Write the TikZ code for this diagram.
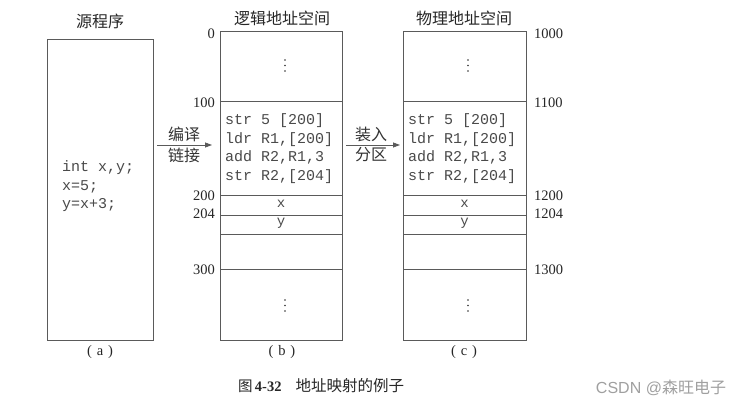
\documentclass[tikz,border=0pt]{standalone}
\usepackage{fontspec}
\setmainfont{Liberation Serif}
\newfontfamily\cjk{Noto Sans CJK SC}
\newfontfamily\monof{Liberation Mono}
\newfontfamily\wmfont{Liberation Sans}
\usetikzlibrary{arrows.meta}
\definecolor{linegray}{HTML}{5A5A5A}
\definecolor{codegray}{HTML}{4A4A4A}
\definecolor{wmgray}{HTML}{A0A0A0}
\begin{document}
\begin{tikzpicture}[x=1pt,y=-1pt,
  memframe/.style={draw=linegray, line width=0.8pt, minimum width=#1, inner sep=0pt, outer sep=0pt},
  sepline/.style={draw=linegray, line width=0.8pt},
  titletext/.style={font=\cjk\fontsize{16}{16}\selectfont, text=black!85},
  addr/.style={font=\fontsize{14.5}{14.5}\selectfont, text=black!85, inner sep=0pt},
  codetext/.style={font=\monof\fontsize{15}{18.6}\selectfont, text=codegray, align=left, inner sep=0pt},
  celltext/.style={font=\monof\fontsize{14}{14}\selectfont, text=codegray, inner sep=0pt},
  arr/.style={draw=linegray, line width=0.8pt, -{Triangle[length=7pt,width=5pt]}},
  arrlabel/.style={font=\cjk\fontsize{16}{16}\selectfont, text=black!80, inner sep=0pt},
  capt/.style={font=\fontsize{14.5}{14.5}\selectfont, text=black!85, inner sep=0pt},
  dotfill/.style={fill=black!80}
]
\useasboundingbox (0,0) rectangle (746,409);
\fill[white] (0,0) rectangle (746,409);

% frames
\node[memframe=106pt, minimum height=301pt] (A) at (100,189.5) {};
\node[memframe=122pt, minimum height=309pt] (B) at (281,185.5) {};
\node[memframe=123pt, minimum height=309pt] (C) at (464.5,185.5) {};

% separators in B and C
\foreach \yy in {101,195.5,215,234,269}{
  \draw[sepline] (B.west |- 0,\yy) -- (B.east |- 0,\yy);
  \draw[sepline] (C.west |- 0,\yy) -- (C.east |- 0,\yy);
}

% titles
\node[titletext] (tA) at (100,21) {源程序};
\node[titletext] (tB) at (282,18) {逻辑地址空间};
\node[titletext] (tC) at (464,18) {物理地址空间};

% source code
\node[codetext, anchor=west] (srcA) at (62,186.5) {int x,y;\\x=5;\\y=x+3;};

% code in B and C
\node[codetext, anchor=west] (codeB) at (225,148.5) {str 5 [200]\\ldr R1,[200]\\add R2,R1,3\\str R2,[204]};
\node[codetext, anchor=west] (codeC) at (408,148.5) {str 5 [200]\\ldr R1,[200]\\add R2,R1,3\\str R2,[204]};

% x, y cells
\node[celltext] (xB) at (281,204) {x};
\node[celltext] (yB) at (281,223) {y};
\node[celltext] (xC) at (464.5,204) {x};
\node[celltext] (yC) at (464.5,223) {y};

% dots
\foreach \cx in {285,468}{
  \foreach \cy in {60,65.5,71,300,305.5,311}{
    \fill[dotfill] (\cx,\cy) circle (0.9pt);
  }
}

% addresses left of B
\node[addr, anchor=east] (l0) at (215,34) {0};
\node[addr, anchor=east] (l100) at (215,103) {100};
\node[addr, anchor=east] (l200) at (215,196) {200};
\node[addr, anchor=east] (l204) at (215,214) {204};
\node[addr, anchor=east] (l300) at (215,270) {300};

% addresses right of C
\node[addr, anchor=west] (r1000) at (534,34) {1000};
\node[addr, anchor=west] (r1100) at (534,103) {1100};
\node[addr, anchor=west] (r1200) at (534,196) {1200};
\node[addr, anchor=west] (r1204) at (534,214) {1204};
\node[addr, anchor=west] (r1300) at (534,270) {1300};

% arrows
\coordinate (a1s) at (157,145);
\coordinate (a1e) at (212,145);
\coordinate (a2s) at (346,145);
\coordinate (a2e) at (400,145);
\draw[arr] (a1s) -- (a1e);
\draw[arr] (a2s) -- (a2e);
\node[arrlabel] (lb1) at (184,134) {编译};
\node[arrlabel] (lb2) at (184,155) {链接};
\node[arrlabel] (lb3) at (371,134) {装入};
\node[arrlabel] (lb4) at (371,155) {分区};

% sub captions
\node[capt] (ca) at (100,352) {(\,\,a\,\,)};
\node[capt] (cb) at (282,352) {(\,\,b\,\,)};
\node[capt] (cc) at (464,352) {(\,\,c\,\,)};

% figure caption
\node[capt] (fig) at (321,386) {{\cjk 图}\,\textbf{4-32}\hspace{14pt}{\cjk\fontsize{15.5}{15.5}\selectfont 地址映射的例子}};

% watermark
\node[font=\fontsize{16}{16}\selectfont, text=wmgray, inner sep=0pt] (wm) at (661,388) {{\wmfont CSDN @}{\cjk 森旺电子}};
\end{tikzpicture}
\end{document}
